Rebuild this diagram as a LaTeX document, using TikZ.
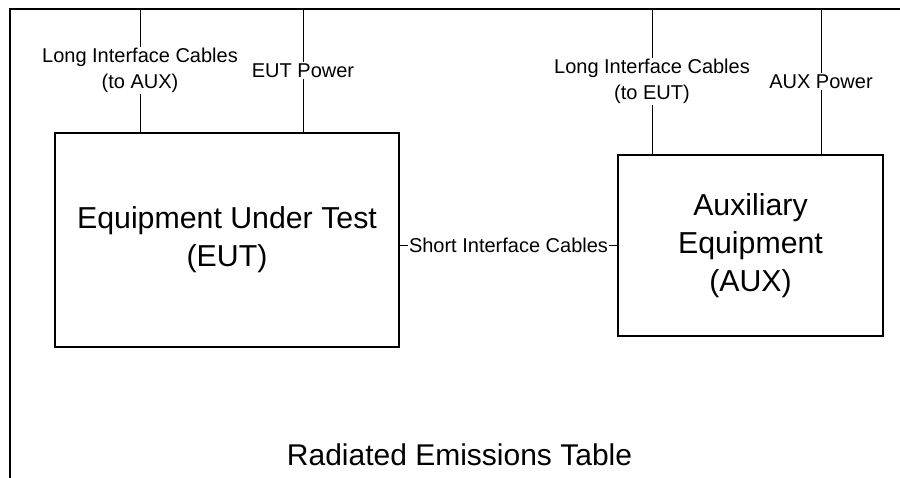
\documentclass[tikz,border=0pt]{standalone}
\usepackage{fontspec}
\setmainfont{Liberation Sans}
\usetikzlibrary{positioning}

\begin{document}
\begin{tikzpicture}[
  x=1pt, y=-1pt,
  equip/.style={draw, line width=1.3pt, align=center, inner sep=0pt, font=\fontsize{30.3}{38}\selectfont},
  cable/.style={line width=0.9pt},
  lbl/.style={fill=white, align=center, inner sep=1.5pt, font=\fontsize{20}{26}\selectfont}
]
\useasboundingbox (0,0) rectangle (900,478);
% table outline, left and top edges only
\coordinate (tblbot) at (10,478);
\coordinate (tbltop) at (10,9);
\coordinate (tblright) at (900,9);
\draw[line width=1.1pt] (tblbot) -- (tbltop) -- (tblright);

\node[equip, minimum width=344pt, minimum height=214pt] (eut) at (227,240) {Equipment Under Test\\(EUT)};
\node[equip, minimum width=265pt, minimum height=181pt] (aux) at (750.5,245.5) {Auxiliary\\Equipment\\(AUX)};

% cables leaving over the table edge
\coordinate (eutlong) at (140,9);
\coordinate (eutpwr) at (303,9);
\coordinate (auxlong) at (652,9);
\coordinate (auxpwr) at (821,9);
\draw[cable] (eutlong) -- (eutlong |- eut.north) node[lbl, midway] {Long Interface Cables\\(to AUX)};
\draw[cable] (eutpwr) -- (eutpwr |- eut.north) node[lbl, midway] {EUT Power};
\draw[cable] (auxlong) -- (auxlong |- aux.north) node[lbl, midway] {Long Interface Cables\\(to EUT)};
\draw[cable] (auxpwr) -- (auxpwr |- aux.north) node[lbl, midway] {AUX Power};

% cables between the two units
\draw[cable] (aux.west -| eut.east) -- (aux.west) node[lbl, midway, inner sep=1pt] {Short Interface Cables};

\node[font=\fontsize{30}{38}\selectfont] (title) at (459.5,455) {Radiated Emissions Table};
\end{tikzpicture}
\end{document}
